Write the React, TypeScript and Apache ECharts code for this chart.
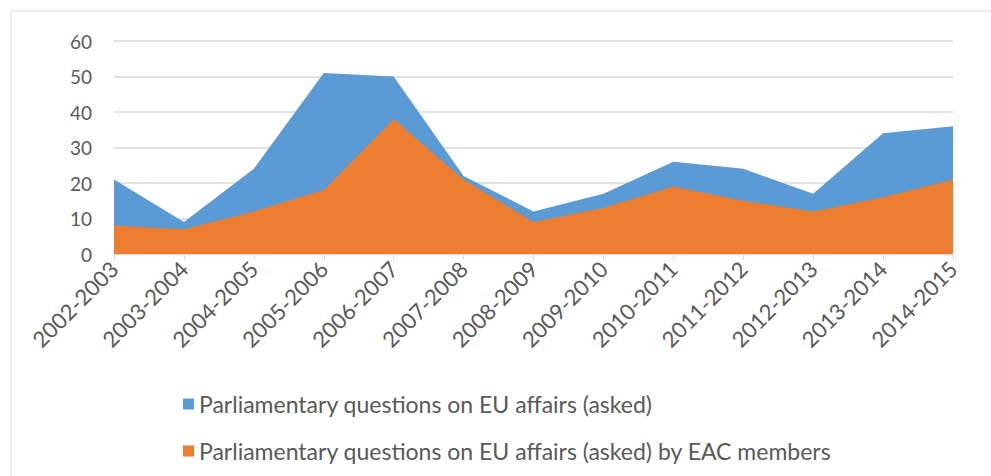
import React, { useEffect, useRef } from "react";
import * as echarts from "echarts";

const categories = [
  "2002-2003", "2003-2004", "2004-2005", "2005-2006", "2006-2007", "2007-2008", "2008-2009",
  "2009-2010", "2010-2011", "2011-2012", "2012-2013", "2013-2014", "2014-2015",
];
const askedValues = [21, 9, 24, 51, 50, 22, 12, 17, 26, 24, 17, 34, 36];
const eacValues = [8, 7, 12, 18, 38, 21, 9, 13, 19, 15, 12, 16, 21];
const seriesNames = [
  "Parliamentary questions on EU affairs (asked)",
  "Parliamentary questions on EU affairs (asked) by EAC members",
];

const FONT = "Lato, 'Liberation Sans', sans-serif";

export default function App() {
  const ref = useRef<HTMLDivElement>(null);
  useEffect(() => {
    document.body.style.margin = "0";
    const chart = echarts.init(ref.current!, null, { renderer: "svg" });
    chart.setOption({
      animation: false,
      backgroundColor: "#ffffff",
      textStyle: { fontFamily: FONT },
      graphic: [
        {
          type: "rect",
          shape: { x: 11, y: 11, width: 1000, height: 500 },
          style: { fill: "none", stroke: "#d9d9d9", lineWidth: 1 },
          silent: true,
        },
      ],
      grid: { left: 114, right: 38, top: 41, bottom: 222 },
      legend: {
        orient: "vertical",
        left: 183,
        top: 392,
        padding: 0,
        itemWidth: 11,
        itemHeight: 11,
        itemGap: 23,
        icon: "rect",
        textStyle: { fontSize: 23, lineHeight: 24, color: "#595959", fontFamily: FONT },
        data: seriesNames,
      },
      xAxis: {
        type: "category",
        data: categories,
        boundaryGap: false,
        axisLine: { lineStyle: { color: "#d9d9d9", width: 1 } },
        axisTick: { show: true, length: 6, lineStyle: { color: "#d9d9d9" } },
        axisLabel: { rotate: 45, fontSize: 22, color: "#595959", margin: 11, fontFamily: FONT },
        splitLine: { show: false },
      },
      yAxis: {
        type: "value",
        min: 0,
        max: 60,
        interval: 10,
        axisLine: { show: false },
        axisTick: { show: false },
        axisLabel: { fontSize: 19, color: "#595959", margin: 22, fontFamily: FONT },
        splitLine: { lineStyle: { color: "#d9d9d9", width: 1.5 } },
      },
      series: [
        {
          name: seriesNames[0],
          type: "line",
          data: askedValues,
          symbol: "none",
          lineStyle: { width: 0 },
          areaStyle: { color: "#5b9bd5", opacity: 1 },
          itemStyle: { color: "#5b9bd5" },
        },
        {
          name: seriesNames[1],
          type: "line",
          data: eacValues,
          symbol: "none",
          lineStyle: { width: 0 },
          areaStyle: { color: "#ed7d31", opacity: 1 },
          itemStyle: { color: "#ed7d31" },
        },
      ],
    });
    return () => chart.dispose();
  }, []);
  return <div ref={ref} style={{ width: 991, height: 476 }} />;
}
